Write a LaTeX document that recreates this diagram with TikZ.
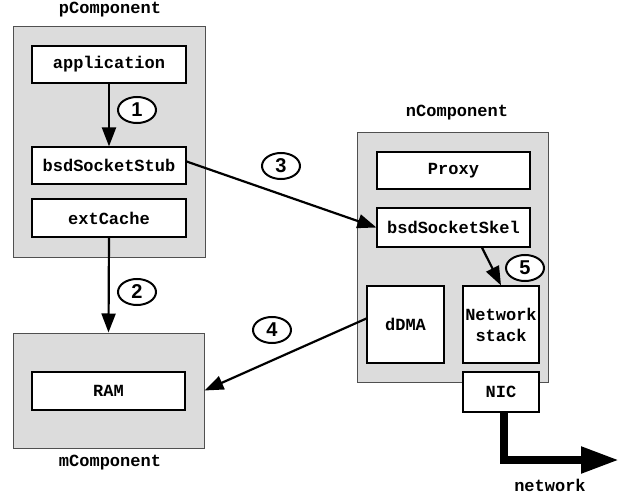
\documentclass[tikz,border=0pt]{standalone}
\usepackage{fontspec}
\setmonofont{Liberation Mono}
\setsansfont{Liberation Sans}
\usetikzlibrary{arrows.meta,shapes.geometric}
\definecolor{compgray}{HTML}{DCDCDC}
\definecolor{compedge}{HTML}{505050}
\tikzset{
  comp/.style={draw=compedge, line width=1pt, fill=compgray, rectangle, inner sep=0pt},
  box/.style={draw=black, line width=1.2pt, fill=white, rectangle, inner sep=0pt,
     font=\fontsize{17}{21}\selectfont\ttfamily\bfseries, align=center},
  lbl/.style={font=\fontsize{17}{21}\selectfont\ttfamily\bfseries, inner sep=0pt},
  num/.style={ellipse, draw=black, line width=2pt, fill=white, minimum width=38pt,
     minimum height=26pt, inner sep=0pt, font=\fontsize{20}{22}\selectfont\sffamily\bfseries},
  arr/.style={line width=2.2pt, -{Triangle[length=19pt,width=14pt]}},
}
\begin{document}
\begin{tikzpicture}[x=1pt,y=-1pt]
\useasboundingbox (0,0) rectangle (619,495);
% components
\node[comp, minimum width=192pt, minimum height=230pt] (pc) at (109,142) {};
\node[comp, minimum width=191pt, minimum height=115pt] (mc) at (108.5,390.5) {};
\node[comp, minimum width=191pt, minimum height=250pt] (nc) at (452.5,257) {};
\node[lbl] (pcl) at (110,10) {pComponent};
\node[lbl] (mcl) at (110,463) {mComponent};
\node[lbl] (ncl) at (457,113) {nComponent};
% boxes
\node[box, minimum width=154pt, minimum height=37pt] (app) at (109,64.5) {application};
\node[box, minimum width=154pt, minimum height=37pt] (stub) at (109,165.5) {bsdSocketStub};
\node[box, minimum width=154pt, minimum height=38pt] (cache) at (109,218) {extCache};
\node[box, minimum width=153pt, minimum height=38pt] (ram) at (108.5,391) {RAM};
\node[box, minimum width=153pt, minimum height=37pt] (proxy) at (453.5,170.5) {Proxy};
\node[box, minimum width=153pt, minimum height=39pt] (skel) at (453.5,227.5) {bsdSocketSkel};
\node[box, minimum width=77pt, minimum height=77pt] (dma) at (405.5,324.5) {dDMA};
\node[box, minimum width=76pt, minimum height=77pt] (ns) at (501,324.5) {Network\\stack};
\node[box, minimum width=76pt, minimum height=40pt] (nic) at (501,392) {NIC};
% arrows
\draw[arr] (app.south) -- (stub.north);
\draw[arr] (cache.south) -- (mc.north);
\draw[arr] ([yshift=4pt]stub.east) -- (skel.west);
\draw[arr] ([yshift=6pt]dma.west) -- (mc.east);
\draw[arr] ([xshift=28.5pt]skel.south) -- (ns.north);
\coordinate (corner) at (504,460);
\coordinate (netend) at (619,460);
\draw[line width=8pt, line join=miter, -{Triangle[length=38pt,width=25pt]}]
  ([xshift=3pt]nic.south) -- (corner) -- (netend);
\node[lbl] (netl) at (550,485) {network};
% numbers
\node[num] (n1) at (137,110) {1};
\node[num] (n2) at (137,292) {2};
\node[num] (n3) at (281,166) {3};
\node[num] (n4) at (272,330) {4};
\node[num] (n5) at (525,268) {5};
\end{tikzpicture}
\end{document}
